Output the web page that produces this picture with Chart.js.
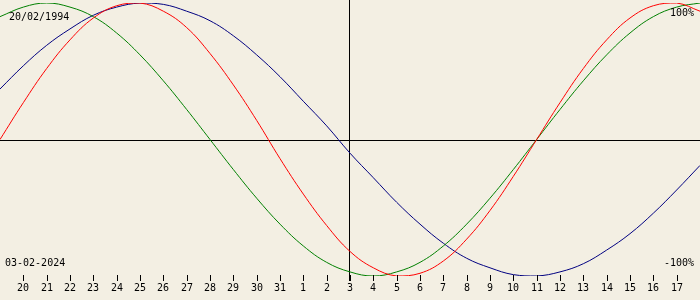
<!DOCTYPE html>
<html>
<head>
<meta charset="utf-8">
<script src="https://cdn.jsdelivr.net/npm/chart.js@4"></script>
<style>
  html, body { margin: 0; padding: 0; background: #F3EFE3; }
  #wrap { width: 700px; height: 300px; position: relative; }
</style>
</head>
<body>
<div id="wrap"><canvas id="bio" width="700" height="300"></canvas></div>
<script>
// Biorhythm, 19 Jan 2024 .. 18 Feb 2024, one point per day (percent)
var DAY_LABELS = ["", "20", "21", "22", "23", "24", "25", "26", "27", "28", "29", "30", "31",
  "1", "2", "3", "4", "5", "6", "7", "8", "9", "10", "11", "12", "13", "14", "15", "16", "17", ""];

var PHYSICAL = [0, 27, 52, 73, 89, 98, 100, 94, 82, 63, 40, 14, -14, -40, -63, -82, -94, -100,
  -98, -89, -73, -52, -27, 0, 27, 52, 73, 89, 98, 100, 94];

var EMOTIONAL = [90, 97, 100, 97, 90, 78, 62, 43, 22, 0, -22, -43, -62, -78, -90, -97, -100,
  -97, -90, -78, -62, -43, -22, 0, 22, 43, 62, 78, 90, 97, 100];

var INTELLECTUAL = [37, 54, 69, 81, 91, 97, 100, 99, 94, 87, 76, 62, 46, 28, 10, -10, -28, -46,
  -62, -76, -87, -94, -99, -100, -97, -91, -81, -69, -54, -37, -19];

var TODAY_INDEX = 15;
var BIRTH_TEXT = "20/02/1994";
var DATE_TEXT = "03-02-2024";
var TOP_TEXT = "100%";
var BOTTOM_TEXT = "-100%";

var FONT = "10px 'DejaVu Sans Mono', monospace";

function toPoints(arr) {
  return arr.map(function (v, i) { return { x: i, y: v }; });
}

// axes, cursor line, day ticks and labels
var decor = {
  id: "decor",
  beforeDatasetsDraw: function (chart) {
    var ctx = chart.ctx;
    var xs = chart.scales.x, ys = chart.scales.y;
    var y0 = Math.round(ys.getPixelForValue(0));
    var xt = Math.round(xs.getPixelForValue(TODAY_INDEX));
    ctx.save();
    ctx.fillStyle = "#000";
    ctx.fillRect(0, y0, chart.width, 1);
    ctx.fillRect(xt - 1, 0, 1, 281);
    ctx.restore();
  },
  afterDraw: function (chart) {
    var ctx = chart.ctx;
    var xs = chart.scales.x;
    ctx.save();
    ctx.fillStyle = "#000";
    ctx.font = FONT;
    ctx.textBaseline = "middle";
    ctx.textAlign = "center";
    DAY_LABELS.forEach(function (lab, i) {
      if (!lab) return;
      var px = Math.round(xs.getPixelForValue(i));
      ctx.fillRect(px, 275, 1, 6);
      ctx.fillText(lab, px, 288);
    });
    ctx.textAlign = "left";
    ctx.fillText(BIRTH_TEXT, 9, 17);
    ctx.fillText(DATE_TEXT, 5, 263);
    ctx.textAlign = "right";
    ctx.fillText(TOP_TEXT, 694, 13);
    ctx.fillText(BOTTOM_TEXT, 694, 263);
    ctx.restore();
  }
};

new Chart(document.getElementById("bio"), {
  type: "line",
  data: {
    datasets: [
      { label: "Physical", data: toPoints(PHYSICAL), borderColor: "#FF0000" },
      { label: "Emotional", data: toPoints(EMOTIONAL), borderColor: "#008000" },
      { label: "Intellectual", data: toPoints(INTELLECTUAL), borderColor: "#000080" }
    ]
  },
  options: {
    responsive: false,
    animation: false,
    layout: { padding: { top: 3, bottom: 24, left: 0, right: 0 } },
    elements: {
      line: { borderWidth: 1, tension: 0.4 },
      point: { radius: 0 }
    },
    plugins: { legend: { display: false }, tooltip: { enabled: false } },
    scales: {
      x: { type: "linear", min: 0, max: 30, display: false },
      y: { type: "linear", min: -100, max: 100, display: false }
    }
  },
  plugins: [decor]
});
</script>
</body>
</html>
